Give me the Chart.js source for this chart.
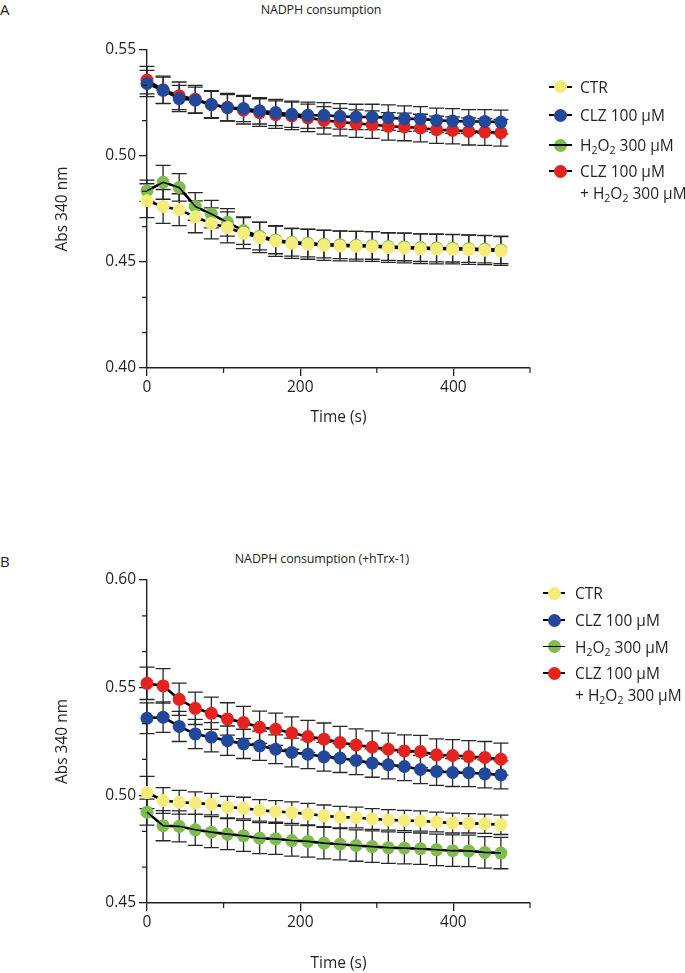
<!DOCTYPE html>
<html>
<head>
<meta charset="utf-8">
<script src="https://cdn.jsdelivr.net/npm/chart.js@4.4.0/dist/chart.umd.min.js"></script>
<style>
  body { margin: 0; background: #fff; font-family: "Open Sans", sans-serif; color: #231f20; }
  #page { position: relative; width: 685px; height: 973px; overflow: hidden; }
  canvas { position: absolute; left: 0; }
  .letter { position: absolute; left: 0; font-size: 15px; line-height: 18px; }
  .title { position: absolute; font-size: 12.5px; line-height: 16px; letter-spacing: -0.15px; transform: translateX(-50%); white-space: nowrap; }
  .item { position: absolute; font-size: 15.5px; line-height: 22px; white-space: nowrap; }
  .sym { position: absolute; height: 13px; }
  .sym .ln { position: absolute; left: 0; right: 0; top: 5.5px; height: 2px; background: #000; }
  .sym .dot { position: absolute; top: 0; width: 13px; height: 13px; border-radius: 50%; }
  .sym.over .ln { z-index: 2; height: 1.5px; top: 5.8px; }
  sub { font-size: 0.68em; vertical-align: -0.3em; line-height: 0; }
</style>
</head>
<body>
<div id="page">
  <div class="letter" style="top:0px">A</div>
  <div class="title" style="left:321px; top:2px">NADPH consumption</div>
  <canvas id="chartA" width="685" height="486" style="top:0px"></canvas>

  <div class="letter" style="top:552px">B</div>
  <div class="title" style="left:322px; top:551px">NADPH consumption (+hTrx-1)</div>
  <canvas id="chartB" width="685" height="487" style="top:486px"></canvas>
</div>
<script>
// time points (s), same for both panels
const time = [0, 21, 42, 63, 84, 105, 126, 147, 168, 189, 210, 231, 252, 273, 294, 315, 336, 357, 378, 399, 420, 441, 462];

// panel A - NADPH consumption
const ctrA = [0.4789, 0.4762, 0.4747, 0.4713, 0.4682, 0.4663, 0.4636, 0.4616, 0.4599, 0.4588, 0.4584, 0.4579, 0.4576, 0.4574, 0.4573, 0.4568, 0.4566, 0.4563, 0.4561, 0.4560, 0.4558, 0.4556, 0.4552];
const clzA = [0.5342, 0.5310, 0.5271, 0.5263, 0.5243, 0.5228, 0.5224, 0.5213, 0.5205, 0.5197, 0.5192, 0.5192, 0.5187, 0.5184, 0.5184, 0.5181, 0.5176, 0.5175, 0.5168, 0.5165, 0.5163, 0.5163, 0.5160];
const h2o2A = [0.4836, 0.4876, 0.4852, 0.4762, 0.4726, 0.4687, 0.4648, 0.4622, 0.4604, 0.4593, 0.4589, 0.4584, 0.4581, 0.4579, 0.4578, 0.4573, 0.4571, 0.4568, 0.4566, 0.4565, 0.4563, 0.4561, 0.4557];
const comboA = [0.5358, 0.5312, 0.5284, 0.5268, 0.5243, 0.5230, 0.5216, 0.5205, 0.5195, 0.5189, 0.5180, 0.5168, 0.5160, 0.5153, 0.5148, 0.5140, 0.5137, 0.5132, 0.5124, 0.5121, 0.5116, 0.5113, 0.5110];

const ctrErrA = [0.008, 0.008, 0.0075, 0.0075, 0.0073, 0.0073, 0.0073, 0.0072, 0.0072, 0.0071, 0.0071, 0.0071, 0.0071, 0.007, 0.007, 0.007, 0.007, 0.007, 0.007, 0.0069, 0.0069, 0.0068, 0.0068];
const clzErrA = [0.0062, 0.0062, 0.0062, 0.0062, 0.0062, 0.0062, 0.0062, 0.0062, 0.0062, 0.0062, 0.0062, 0.006, 0.006, 0.006, 0.006, 0.006, 0.006, 0.0058, 0.0058, 0.0058, 0.0056, 0.0056, 0.0056];
const h2o2ErrA = [0.005, 0.008, 0.0065, 0.0065, 0.0065, 0.0065, 0.0065, 0.0065, 0.0065, 0.0065, 0.0065, 0.0065, 0.0065, 0.0065, 0.0065, 0.0065, 0.0065, 0.0065, 0.0065, 0.0065, 0.0065, 0.0065, 0.0065];
const comboErrA = [0.0065, 0.0065, 0.0065, 0.0065, 0.0065, 0.0065, 0.0065, 0.0065, 0.0065, 0.0065, 0.0065, 0.0065, 0.0065, 0.0065, 0.0065, 0.0065, 0.0065, 0.0065, 0.0064, 0.0064, 0.0064, 0.0063, 0.0063];

// panel B - NADPH consumption (+hTrx-1)
const ctrB = [0.5013, 0.4976, 0.4968, 0.4964, 0.4959, 0.4945, 0.4941, 0.4930, 0.4925, 0.4920, 0.4913, 0.4905, 0.4899, 0.4897, 0.4890, 0.4886, 0.4883, 0.4881, 0.4876, 0.4871, 0.4870, 0.4868, 0.4863];
const clzB = [0.5358, 0.5363, 0.5320, 0.5285, 0.5270, 0.5254, 0.5239, 0.5230, 0.5214, 0.5199, 0.5191, 0.5179, 0.5173, 0.5162, 0.5150, 0.5142, 0.5134, 0.5120, 0.5111, 0.5106, 0.5105, 0.5100, 0.5095];
const h2o2B = [0.4922, 0.4859, 0.4856, 0.4840, 0.4829, 0.4820, 0.4812, 0.4801, 0.4798, 0.4790, 0.4786, 0.4778, 0.4773, 0.4767, 0.4762, 0.4757, 0.4755, 0.4752, 0.4747, 0.4743, 0.4742, 0.4735, 0.4732];
const comboB = [0.5520, 0.5508, 0.5446, 0.5404, 0.5381, 0.5355, 0.5338, 0.5316, 0.5307, 0.5289, 0.5273, 0.5261, 0.5245, 0.5234, 0.5224, 0.5214, 0.5206, 0.5203, 0.5188, 0.5185, 0.5180, 0.5176, 0.5168];

const ctrErrB = [0.0075, 0.006, 0.0055, 0.0052, 0.005, 0.005, 0.005, 0.005, 0.005, 0.005, 0.005, 0.005, 0.005, 0.0048, 0.0048, 0.0048, 0.0047, 0.0047, 0.0046, 0.0046, 0.0045, 0.0045, 0.0045];
const clzErrB = [0.0071, 0.0071, 0.007, 0.0068, 0.0068, 0.0068, 0.0068, 0.0068, 0.0067, 0.0067, 0.0067, 0.0067, 0.0067, 0.0066, 0.0066, 0.0066, 0.0066, 0.0066, 0.0065, 0.0065, 0.0065, 0.0065, 0.0065];
const h2o2ErrB = [0.006, 0.007, 0.0072, 0.0072, 0.0072, 0.0072, 0.0072, 0.0072, 0.0072, 0.0072, 0.0073, 0.0073, 0.0073, 0.0073, 0.0073, 0.0073, 0.0073, 0.0073, 0.0073, 0.0073, 0.0073, 0.0073, 0.0073];
const comboErrB = [0.0075, 0.008, 0.0075, 0.0075, 0.0075, 0.0075, 0.0075, 0.0075, 0.0075, 0.0075, 0.0075, 0.0075, 0.0075, 0.0075, 0.0075, 0.0075, 0.0075, 0.0075, 0.0074, 0.0074, 0.0074, 0.0074, 0.0074];

// axes
const xMajor = [0, 200, 400];
const xMinor = [100, 300, 500];
const yMajorA = [0.40, 0.45, 0.50, 0.55];
const yMinorA = [0.4167, 0.4333, 0.4667, 0.4833, 0.5167, 0.5333];
const yMajorB = [0.45, 0.50, 0.55, 0.60];
const yMinorB = [0.4667, 0.4833, 0.5167, 0.5333, 0.5667, 0.5833];

const labels = ['CTR', 'CLZ 100 µM', 'H<sub>2</sub>O<sub>2</sub> 300 µM', 'CLZ 100 µM<br>+ H<sub>2</sub>O<sub>2</sub> 300 µM'];
const colors = ['#f6ec7c', '#21489b', '#7dbd4d', '#e4231f'];

const ink = '#231f20';
const fontFamily = '"Open Sans", sans-serif';

const errorBars = {
  id: 'errorBars',
  beforeDatasetsDraw(chart) {
    const {ctx, scales: {x, y}} = chart;
    ctx.save();
    ctx.strokeStyle = '#262626';
    ctx.lineWidth = 1.3;
    chart.data.datasets.forEach(ds => {
      if (!ds.errors) return;
      ds.data.forEach((p, i) => {
        const px = x.getPixelForValue(p.x);
        const top = y.getPixelForValue(p.y + ds.errors[i]);
        const bot = y.getPixelForValue(p.y - ds.errors[i]);
        ctx.beginPath();
        ctx.moveTo(px, top); ctx.lineTo(px, bot);
        ctx.moveTo(px - 7.5, top); ctx.lineTo(px + 7.5, top);
        ctx.moveTo(px - 7.5, bot); ctx.lineTo(px + 7.5, bot);
        ctx.stroke();
      });
    });
    ctx.restore();
  }
};

const minorTicks = {
  id: 'minorTicks',
  afterDraw(chart, args, opts) {
    const {ctx, chartArea, scales: {x, y}} = chart;
    ctx.save();
    ctx.strokeStyle = ink;
    ctx.lineWidth = 1.2;
    ctx.beginPath();
    (opts.x || []).forEach(v => {
      const px = x.getPixelForValue(v);
      ctx.moveTo(px, chartArea.bottom); ctx.lineTo(px, chartArea.bottom + 5);
    });
    (opts.y || []).forEach(v => {
      const py = y.getPixelForValue(v);
      ctx.moveTo(chartArea.left - 5, py); ctx.lineTo(chartArea.left, py);
    });
    ctx.stroke();
    ctx.restore();
  }
};

function pts(values) {
  return values.map((v, i) => ({x: time[i], y: v}));
}

function series(label, values, errors, color, order) {
  return {
    label: label,
    data: pts(values),
    errors: errors,
    borderColor: '#000',
    borderWidth: 2.6,
    pointRadius: 6.5,
    pointBorderWidth: 0,
    pointBackgroundColor: color,
    pointBorderColor: color,
    order: order,
    clip: false
  };
}

function makeChart(id, p) {
  return new Chart(document.getElementById(id), {
    type: 'line',
    data: {
      datasets: [
        series('CTR', p.ctr, p.ctrErr, colors[0], 1),
        series('CLZ 100 µM', p.clz, p.clzErr, colors[1], 4),
        series('H2O2 300 µM', p.h2o2, p.h2o2Err, colors[2], 3),
        series('CLZ 100 µM + H2O2 300 µM', p.combo, p.comboErr, colors[3], 5),
        // H2O2 line sits on top of its own markers in the original
        { label: '', data: pts(p.h2o2), borderColor: '#000', borderWidth: 1.6, pointRadius: 0, order: 2, clip: false }
      ]
    },
    options: {
      responsive: false,
      animation: false,
      events: [],
      layout: { padding: { left: 0, right: 155, top: p.top, bottom: p.bottom } },
      plugins: {
        legend: { display: false },
        tooltip: { enabled: false },
        minorTicks: { x: xMinor, y: p.yMinor }
      },
      scales: {
        x: {
          type: 'linear', min: 0, max: 500,
          afterBuildTicks: s => { s.ticks = xMajor.map(v => ({value: v})); },
          afterFit: s => { s.height = p.xHeight; },
          ticks: { color: ink, font: { family: fontFamily, size: 15.5 }, padding: 2, maxRotation: 0, autoSkip: false },
          grid: { drawOnChartArea: false, drawTicks: true, tickLength: 8, color: ink, lineWidth: 1.3 },
          border: { display: true, color: ink, width: 1.4 },
          title: { display: true, text: 'Time (s)', color: ink, font: { family: fontFamily, size: 15.5 }, padding: { top: 0, bottom: 0 } }
        },
        y: {
          type: 'linear', min: p.yMin, max: p.yMax,
          afterBuildTicks: s => { s.ticks = p.yMajor.map(v => ({value: v})); },
          afterFit: s => { s.width = 147; },
          ticks: { color: ink, font: { family: fontFamily, size: 15.5 }, padding: 3, callback: v => v.toFixed(2) },
          grid: { drawOnChartArea: false, drawTicks: true, tickLength: 8, color: ink, lineWidth: 1.3 },
          border: { display: true, color: ink, width: 1.4 },
          title: { display: true, text: 'Abs 340 nm', color: ink, font: { family: fontFamily, size: 15.5 }, padding: { top: 53, bottom: 0 } }
        }
      }
    },
    plugins: [errorBars, minorTicks]
  });
}

makeChart('chartA', {
  ctr: ctrA, clz: clzA, h2o2: h2o2A, combo: comboA,
  ctrErr: ctrErrA, clzErr: clzErrA, h2o2Err: h2o2ErrA, comboErr: comboErrA,
  yMin: 0.40, yMax: 0.55, yMajor: yMajorA, yMinor: yMinorA,
  top: 50, bottom: 59, xHeight: 59
});

makeChart('chartB', {
  ctr: ctrB, clz: clzB, h2o2: h2o2B, combo: comboB,
  ctrErr: ctrErrB, clzErr: clzErrB, h2o2Err: h2o2ErrB, comboErr: comboErrB,
  yMin: 0.45, yMax: 0.60, yMajor: yMajorB, yMinor: yMinorB,
  top: 94, bottom: 0, xHeight: 70
});

// html legends (two-line label and subscripts)
function legend(rows, symX, symW, dotX, textX) {
  const page = document.getElementById('page');
  rows.forEach((rowY, i) => {
    const sym = document.createElement('div');
    sym.className = 'sym' + (i === 2 ? ' over' : '');
    sym.style.left = symX + 'px';
    sym.style.width = symW + 'px';
    sym.style.top = (rowY - 6.5) + 'px';
    sym.innerHTML = '<div class="ln"></div><div class="dot" style="left:' + (dotX - symX - 6.5) + 'px;background:' + colors[i] + '"></div>';
    page.appendChild(sym);

    const item = document.createElement('div');
    item.className = 'item';
    item.style.left = textX + 'px';
    item.style.top = (rowY - 11) + 'px';
    item.innerHTML = labels[i];
    page.appendChild(item);
  });
}

legend([86.5, 115, 145, 171], 549, 23, 560, 580);
legend([593, 620, 646.5, 673], 543, 22, 554, 575);
</script>
</body>
</html>
